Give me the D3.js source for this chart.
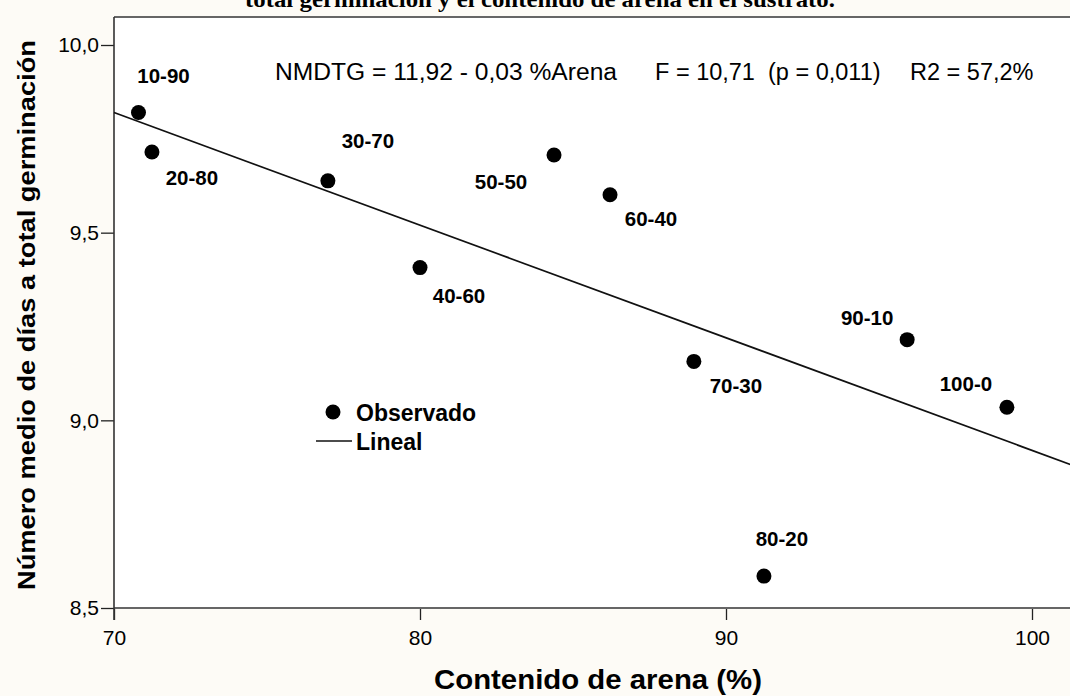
<!DOCTYPE html>
<html>
<head>
<meta charset="UTF-8">
<script src="https://cdn.jsdelivr.net/npm/d3@7"></script>
<style>
  body { margin: 0; background: #fdfbf6; }
  text { font-family: "Liberation Sans", Arial, sans-serif; fill: #000; }
</style>
</head>
<body>
<svg id="chart" width="1070" height="696"></svg>
<script>
  // Data
  var labels = ['10-90', '20-80', '30-70', '40-60', '50-50', '60-40', '70-30', '80-20', '90-10', '100-0'];
  var sand = [70.8, 71.24, 76.99, 80.0, 84.38, 86.21, 88.95, 91.24, 95.92, 99.18];
  var days = [9.82, 9.715, 9.638, 9.407, 9.707, 9.601, 9.157, 8.585, 9.215, 9.035];
  var fitCoef = [11.92, -0.03];
  var xTicks = [70, 80, 90, 100];
  var yTicks = [8.5, 9.0, 9.5, 10.0];

  // label placement (pixel offsets of label centre from each point)
  var labelOffset = [[25, -37], [40, 26], [40, -40], [39, 28], [-53, 27], [41, 24], [42, 24], [18, -37], [-40, -22], [-41, -24]];

  var svg = d3.select('#chart');

  var x = d3.scaleLinear().domain([70, 100]).range([114, 1032]);
  var y = d3.scaleLinear().domain([8.5, 10.0]).range([608, 45]);
  var xMax = x.invert(1072);

  // Title (cut off at the top, as in the source)
  svg.append('text')
    .attr('x', 540).attr('y', 7)
    .attr('text-anchor', 'middle')
    .attr('textLength', 590).attr('lengthAdjust', 'spacingAndGlyphs')
    .style('font-family', '"Liberation Serif", "Times New Roman", serif')
    .style('font-weight', 'bold')
    .style('font-size', '23px')
    .text('total germinación y el contenido de arena en el sustrato.');

  // plot background
  svg.append('rect')
    .attr('x', 114).attr('y', 17)
    .attr('width', 1070 - 114).attr('height', 608 - 17)
    .style('fill', '#fff');

  // frame top
  svg.append('line')
    .attr('x1', 114).attr('x2', 1070).attr('y1', 17).attr('y2', 17)
    .style('stroke', '#666').style('stroke-width', 2);

  // axes
  var xAxis = d3.axisBottom(x).tickValues(xTicks).tickSize(12).tickSizeOuter(0).tickFormat(d3.format('d'));
  var gx = svg.append('g').attr('transform', 'translate(0,608)').call(xAxis);
  gx.select('.domain').remove();
  gx.append('line').attr('x1', 114).attr('x2', 1070).attr('y1', 0).attr('y2', 0)
    .style('stroke', '#666').style('stroke-width', 2.2);
  gx.selectAll('.tick line').style('stroke', '#222').style('stroke-width', 1.3);
  gx.selectAll('.tick text').attr('y', 22).attr('dy', '0.71em')
    .style('font-size', '21px');

  var yAxis = d3.axisLeft(y).tickValues(yTicks).tickSize(13).tickSizeOuter(0)
    .tickFormat(function (d) { return d3.format('.1f')(d).replace('.', ','); });
  var gy = svg.append('g').attr('transform', 'translate(114,0)').call(yAxis);
  gy.select('.domain').remove();
  gy.append('line').attr('x1', 0).attr('x2', 0).attr('y1', 17).attr('y2', 620)
    .style('stroke', '#333').style('stroke-width', 1.6);
  gy.selectAll('.tick line').style('stroke', '#222').style('stroke-width', 1.3);
  gy.selectAll('.tick text').attr('x', -15)
    .style('font-size', '21px');

  // axis titles
  svg.append('text')
    .attr('x', 598).attr('y', 689)
    .attr('text-anchor', 'middle')
    .attr('textLength', 328).attr('lengthAdjust', 'spacingAndGlyphs')
    .style('font-weight', 'bold').style('font-size', '27px')
    .text('Contenido de arena (%)');

  svg.append('text')
    .attr('transform', 'translate(35,315) rotate(-90)')
    .attr('text-anchor', 'middle')
    .attr('textLength', 550).attr('lengthAdjust', 'spacingAndGlyphs')
    .style('font-weight', 'bold').style('font-size', '24px')
    .text('Número medio de días a total germinación');

  // fitted line
  var fitPts = [70, xMax].map(function (v) { return [v, fitCoef[0] + fitCoef[1] * v]; });
  svg.append('path')
    .attr('d', d3.line().x(function (d) { return x(d[0]); }).y(function (d) { return y(d[1]); })(fitPts))
    .style('fill', 'none').style('stroke', '#111').style('stroke-width', 1.7);

  // points
  svg.selectAll('circle.pt')
    .data(sand)
    .enter()
    .append('circle')
    .attr('class', 'pt')
    .attr('cx', function (d) { return x(d); })
    .attr('cy', function (d, i) { return y(days[i]); })
    .attr('r', 7.5)
    .style('fill', '#000');

  // point labels
  svg.selectAll('text.lbl')
    .data(labels)
    .enter()
    .append('text')
    .attr('class', 'lbl')
    .attr('x', function (d, i) { return x(sand[i]) + labelOffset[i][0]; })
    .attr('y', function (d, i) { return y(days[i]) + labelOffset[i][1]; })
    .attr('dy', '0.36em')
    .attr('text-anchor', 'middle')
    .style('font-weight', 'bold').style('font-size', '20.5px')
    .text(function (d) { return d; });

  // equation annotation
  var ann = svg.append('g').style('font-size', '23.5px');
  ann.append('text').attr('x', 275).attr('y', 80)
    .attr('textLength', 342).attr('lengthAdjust', 'spacingAndGlyphs')
    .text('NMDTG = 11,92 - 0,03 %Arena');
  ann.append('text').attr('x', 655).attr('y', 80).attr('xml:space', 'preserve').text('F = 10,71  (p = 0,011)');
  ann.append('text').attr('x', 910).attr('y', 80).text('R2 = 57,2%');

  // legend
  var leg = svg.append('g').style('font-weight', 'bold').style('font-size', '23px');
  leg.append('circle').attr('cx', 333).attr('cy', 412).attr('r', 7.5).style('fill', '#000');
  leg.append('text').attr('x', 356).attr('y', 421).text('Observado');
  leg.append('line').attr('x1', 316).attr('x2', 352).attr('y1', 441).attr('y2', 441)
    .style('stroke', '#111').style('stroke-width', 1.7);
  leg.append('text').attr('x', 356).attr('y', 450).text('Lineal');
</script>
</body>
</html>
